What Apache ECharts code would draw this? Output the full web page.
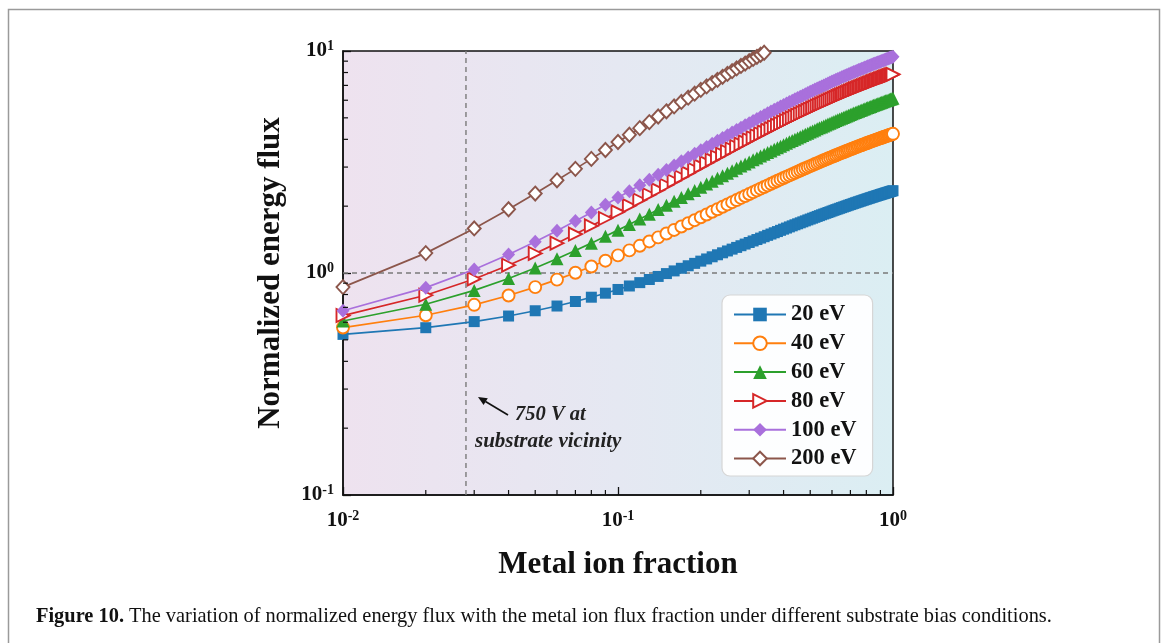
<!DOCTYPE html>
<html><head><meta charset="utf-8">
<script src="https://cdn.jsdelivr.net/npm/echarts@6/dist/echarts.min.js"></script>
<style>html,body{margin:0;padding:0;background:#fff}#c{width:1168px;height:643px}</style>
</head><body><div id="c"></div>
<script>
// metal ion fraction (x)
const xValues = [0.01,0.02,0.03,0.04,0.05,0.06,0.07,0.08,0.09,0.10,
0.11,0.12,0.13,0.14,0.15,0.16,0.17,0.18,0.19,0.20,
0.21,0.22,0.23,0.24,0.25,0.26,0.27,0.28,0.29,0.30,
0.31,0.32,0.33,0.34,0.35,0.36,0.37,0.38,0.39,0.40,
0.41,0.42,0.43,0.44,0.45,0.46,0.47,0.48,0.49,0.50,
0.51,0.52,0.53,0.54,0.55,0.56,0.57,0.58,0.59,0.60,
0.61,0.62,0.63,0.64,0.65,0.66,0.67,0.68,0.69,0.70,
0.71,0.72,0.73,0.74,0.75,0.76,0.77,0.78,0.79,0.80,
0.81,0.82,0.83,0.84,0.85,0.86,0.87,0.88,0.89,0.90,
0.91,0.92,0.93,0.94,0.95,0.96,0.97,0.98,0.99,1.00];

const ev20 = [0.529,0.567,0.604,0.640,0.676,0.710,0.744,0.778,0.811,0.843,
0.874,0.905,0.935,0.965,0.994,1.022,1.050,1.078,1.105,1.131,
1.157,1.183,1.208,1.233,1.257,1.281,1.304,1.327,1.350,1.372,
1.394,1.415,1.436,1.457,1.478,1.498,1.518,1.537,1.557,1.576,
1.594,1.613,1.631,1.649,1.666,1.683,1.700,1.717,1.734,1.750,
1.766,1.782,1.798,1.813,1.829,1.844,1.858,1.873,1.887,1.902,
1.916,1.930,1.943,1.957,1.970,1.983,1.996,2.009,2.022,2.034,
2.046,2.059,2.071,2.083,2.094,2.106,2.117,2.129,2.140,2.151,
2.162,2.173,2.184,2.194,2.205,2.215,2.225,2.235,2.245,2.255,
2.265,2.274,2.284,2.293,2.303,2.312,2.321,2.330,2.339,2.348];

const ev40 = [0.568,0.645,0.719,0.792,0.864,0.934,1.003,1.070,1.136,1.201,
1.264,1.326,1.387,1.447,1.506,1.563,1.620,1.675,1.729,1.783,
1.835,1.887,1.937,1.987,2.036,2.084,2.131,2.178,2.223,2.268,
2.312,2.355,2.398,2.440,2.481,2.522,2.562,2.602,2.640,2.679,
2.716,2.753,2.790,2.826,2.861,2.896,2.931,2.964,2.998,3.031,
3.063,3.095,3.127,3.158,3.189,3.219,3.249,3.278,3.307,3.336,
3.364,3.392,3.420,3.447,3.474,3.500,3.527,3.552,3.578,3.603,
3.628,3.653,3.677,3.701,3.725,3.748,3.771,3.794,3.817,3.839,
3.861,3.883,3.904,3.926,3.947,3.968,3.988,4.008,4.029,4.049,
4.068,4.088,4.107,4.126,4.145,4.163,4.182,4.200,4.218,4.236];

const ev60 = [0.608,0.723,0.835,0.945,1.053,1.159,1.262,1.363,1.463,1.560,
1.655,1.749,1.841,1.931,2.019,2.105,2.190,2.274,2.356,2.436,
2.515,2.593,2.669,2.744,2.817,2.889,2.960,3.030,3.099,3.166,
3.233,3.298,3.362,3.426,3.488,3.549,3.609,3.669,3.727,3.785,
3.841,3.897,3.952,4.006,4.059,4.112,4.164,4.215,4.265,4.315,
4.363,4.412,4.459,4.506,4.552,4.598,4.643,4.687,4.731,4.774,
4.817,4.859,4.900,4.941,4.981,5.021,5.061,5.100,5.138,5.176,
5.214,5.251,5.287,5.323,5.359,5.394,5.429,5.463,5.497,5.531,
5.564,5.597,5.629,5.662,5.693,5.725,5.756,5.786,5.817,5.846,
5.876,5.905,5.934,5.963,5.991,6.020,6.047,6.075,6.102,6.129];

const ev80 = [0.643,0.794,0.940,1.084,1.225,1.363,1.498,1.630,1.760,1.887,
2.011,2.133,2.253,2.370,2.485,2.598,2.709,2.818,2.925,3.030,
3.133,3.234,3.333,3.431,3.527,3.621,3.714,3.805,3.895,3.983,
4.069,4.155,4.238,4.321,4.402,4.482,4.561,4.638,4.714,4.789,
4.863,4.936,5.008,5.078,5.148,5.217,5.284,5.351,5.416,5.481,
5.545,5.608,5.670,5.731,5.791,5.851,5.909,5.967,6.024,6.081,
6.136,6.191,6.245,6.299,6.351,6.403,6.455,6.506,6.556,6.605,
6.654,6.703,6.750,6.797,6.844,6.890,6.935,6.980,7.025,7.068,
7.112,7.155,7.197,7.239,7.280,7.321,7.361,7.402,7.441,7.480,
7.519,7.557,7.595,7.632,7.669,7.706,7.742,7.778,7.814,7.849];

const ev100 = [0.676,0.859,1.037,1.211,1.382,1.550,1.714,1.874,2.032,2.186,
2.337,2.485,2.630,2.773,2.913,3.050,3.185,3.317,3.446,3.574,
3.699,3.822,3.943,4.061,4.177,4.292,4.405,4.515,4.624,4.731,
4.836,4.940,5.042,5.142,5.240,5.337,5.433,5.527,5.619,5.711,
5.800,5.889,5.976,6.062,6.146,6.229,6.311,6.392,6.472,6.551,
6.628,6.704,6.780,6.854,6.927,6.999,7.071,7.141,7.210,7.279,
7.346,7.413,7.479,7.543,7.607,7.671,7.733,7.795,7.856,7.916,
7.975,8.034,8.092,8.149,8.205,8.261,8.316,8.371,8.425,8.478,
8.531,8.583,8.634,8.685,8.735,8.785,8.834,8.883,8.931,8.978,
9.025,9.071,9.118,9.163,9.208,9.252,9.296,9.340,9.383,9.426];

const ev200 = [0.864,1.229,1.587,1.937,2.280,2.616,2.945,3.266,3.582,3.891,
4.195,4.492,4.783,5.069,5.350,5.625,5.895,6.160,6.420,6.676,
6.927,7.173,7.415,7.653,7.887,8.116,8.342,8.564,8.782,8.997,
9.208,9.416,9.620,9.821,10.019,10.213,10.405];

const seriesNames = ['20 eV','40 eV','60 eV','80 eV','100 eV','200 eV'];
const refX = 0.028;   // vertical dashed line (750 V at substrate vicinity)
const refY = 1;       // horizontal dashed line
const minorXTicks = [0.02,0.03,0.04,0.05,0.06,0.07,0.08,0.09,0.2,0.3,0.4,0.5,0.6,0.7,0.8,0.9];
const minorYTicks = [0.2,0.3,0.4,0.5,0.6,0.7,0.8,0.9,2,3,4,5,6,7,8,9];

const FONT = '"Liberation Serif","Times New Roman",serif';
const chart = echarts.init(document.getElementById('c'));

function pow10Label(v){
  const e = Math.round(Math.log10(v));
  return '{b|10}{s|' + e + '}';
}
const richLab = {
  b:{fontFamily:FONT,fontWeight:'bold',fontSize:21,color:'#111',lineHeight:24},
  s:{fontFamily:FONT,fontWeight:'bold',fontSize:14,color:'#111',lineHeight:12,verticalAlign:'top'}
};

function mk(name, vals, color, symbol, size, hollow, rotate, z){
  return {
    name, type:'line', z,
    data: vals.map((v,i)=>[xValues[i], v]),
    symbol, symbolSize:size, symbolRotate: rotate||0,
    showSymbol:true, clip:true, silent:true,
    lineStyle:{color, width:1.7},
    itemStyle: hollow ? {color:'#fff', borderColor:color, borderWidth:1.9} : {color, borderColor:color, borderWidth:0},
    emphasis:{disabled:true},
    animation:false
  };
}

const dashStyle = {color:'#7a7a7a', type:[5,4], width:1.4};
const refLines = [
  {type:'line', z:1, silent:true, symbol:'none', animation:false, lineStyle:dashStyle,
   data:[[refX,0.1],[refX,10]]},
  {type:'line', z:1, silent:true, symbol:'none', animation:false, lineStyle:dashStyle,
   data:[[0.01,refY],[1,refY]]}
];

const tickSeries = (vals, dir) => ({
  type:'custom', silent:true, z:20, clip:false, animation:false,
  data: vals.map(v => dir==='x' ? [v, 0.1] : [0.01, v]),
  renderItem:(p, api)=>{
    const c = api.coord([api.value(0), api.value(1)]);
    return {type:'line',
      shape: dir==='x' ? {x1:c[0],y1:c[1],x2:c[0],y2:c[1]-5} : {x1:c[0],y1:c[1],x2:c[0]+5,y2:c[1]},
      style:{stroke:'#111', lineWidth:1.2}};
  }
});

const option = {
  backgroundColor:'#fff',
  animation:false,
  grid:{left:343, right:275, top:51, bottom:148, show:true, borderColor:'#111', borderWidth:1.5,
    backgroundColor: new echarts.graphic.LinearGradient(0,0,1,0,[
      {offset:0,color:'#eee2ef'},{offset:0.5,color:'#e5e8f2'},{offset:1,color:'#dbeef3'}])},
  xAxis:{type:'log', logBase:10, min:0.01, max:1,
    axisLine:{show:true, lineStyle:{color:'#111', width:1.5}},
    axisTick:{show:true, inside:true, length:8, lineStyle:{color:'#111', width:1.3}},
    splitLine:{show:false}, minorTick:{show:false},
    axisLabel:{formatter:pow10Label, rich:richLab, margin:14},
    name:'Metal ion fraction', nameLocation:'middle', nameGap:54,
    nameTextStyle:{fontFamily:FONT, fontWeight:'bold', fontSize:31, color:'#111'}},
  yAxis:{type:'log', logBase:10, min:0.1, max:10,
    axisLine:{show:true, lineStyle:{color:'#111', width:1.5}},
    axisTick:{show:true, inside:true, length:8, lineStyle:{color:'#111', width:1.3}},
    splitLine:{show:false}, minorTick:{show:false},
    axisLabel:{formatter:pow10Label, rich:richLab, margin:9},
    name:'Normalized energy flux', nameLocation:'middle', nameGap:57, nameRotate:90,
    nameTextStyle:{fontFamily:FONT, fontWeight:'bold', fontSize:31, color:'#111'}},
  legend:{orient:'vertical', left:722, top:295, data:seriesNames,
    itemWidth:52, itemHeight:17, itemGap:5.8, padding:[8,16,6,11],
    backgroundColor:'rgba(255,255,255,0.93)', borderColor:'#d6d6d6', borderWidth:1.2, borderRadius:8,
    textStyle:{fontFamily:FONT, fontWeight:'bold', fontSize:22.5, color:'#111', lineHeight:22.5}},
  graphic:[
    {type:'rect', shape:{x:8.5,y:9.5,width:1151,height:700}, style:{fill:'none', stroke:'#9a9a9a', lineWidth:1.5}, silent:true},
    {type:'line', shape:{x1:508,y1:415,x2:485.5,y2:401.5}, style:{stroke:'#111', lineWidth:1.6}, silent:true, z:30},
    {type:'polygon', shape:{points:[[478,397],[487.8,398.2],[483.6,405]]}, style:{fill:'#111'}, silent:true, z:30},
    {type:'text', x:515, y:415, style:{text:'750 V at', font:'italic bold 20.5px '+FONT, fill:'#222', textVerticalAlign:'middle'}, silent:true, z:30},
    {type:'text', x:475, y:442, style:{text:'substrate vicinity', font:'italic bold 21px '+FONT, fill:'#222', textVerticalAlign:'middle'}, silent:true, z:30},
    {type:'text', x:36, y:617, style:{text:'{b|Figure 10.} The variation of normalized energy flux with the metal ion flux fraction under different substrate bias conditions.',
      font:'20.4px '+FONT, fill:'#111', textVerticalAlign:'middle',
      rich:{b:{fontWeight:'bold', fontFamily:FONT, fontSize:20.4, fill:'#111'}}}, silent:true}
  ],
  series:[
    ...refLines,
    mk('20 eV', ev20, '#1f77b4', 'rect', 11, false, 0, 2),
    mk('40 eV', ev40, '#ff7f0e', 'circle', 12, true, 0, 3),
    mk('60 eV', ev60, '#2ca02c', 'triangle', 13, false, 0, 4),
    mk('80 eV', ev80, '#d62728', 'triangle', 13, true, -90, 5),
    mk('100 eV', ev100, '#a970dc', 'diamond', [13,14], false, 0, 6),
    mk('200 eV', ev200, '#8c564b', 'diamond', [13,14], true, 0, 7),
    tickSeries(minorXTicks,'x'),
    tickSeries(minorYTicks,'y')
  ]
};
chart.setOption(option);
</script></body></html>
